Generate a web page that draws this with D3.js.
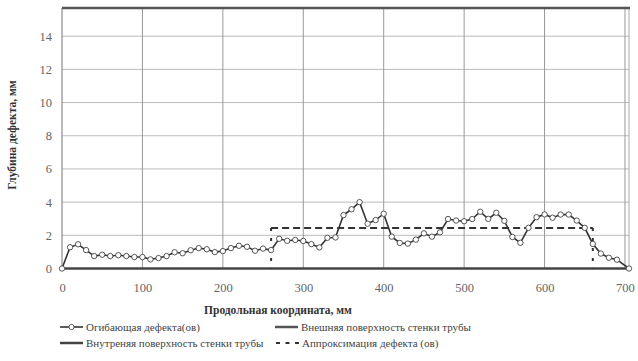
<!DOCTYPE html>
<html>
<head>
<meta charset="utf-8">
<script src="https://cdn.jsdelivr.net/npm/d3@7/dist/d3.min.js"></script>
<style>
  html, body { margin: 0; padding: 0; background: #fff; }
  svg { display: block; }
  text { font-family: "Liberation Serif", "DejaVu Serif", serif; }
</style>
</head>
<body>
<svg id="chart" width="638" height="361"></svg>
<script>
// ---- data ----
const positions = [0,10,20,30,40,50,60,70,80,90,100,110,120,130,140,150,160,170,180,190,
  200,210,220,230,240,250,260,270,280,290,300,310,320,330,340,350,360,370,380,390,
  400,410,420,430,440,450,460,470,480,490,500,510,520,530,540,550,560,570,580,590,
  600,610,620,630,640,650,660,670,680,690,705];
const envelope = [0,1.28,1.46,1.11,0.75,0.83,0.75,0.80,0.75,0.69,0.69,0.55,0.63,0.75,0.98,0.92,1.10,1.23,1.16,0.99,
  1.05,1.23,1.37,1.31,1.07,1.20,1.11,1.79,1.67,1.72,1.66,1.47,1.27,1.85,1.87,3.22,3.57,4.00,2.70,2.92,
  3.30,1.92,1.54,1.50,1.74,2.12,1.92,2.18,2.98,2.89,2.85,2.98,3.42,2.99,3.36,2.87,1.90,1.55,2.45,3.09,
  3.26,3.06,3.25,3.25,2.89,2.45,1.48,0.90,0.65,0.53,0];
const outerSurface = 15.7;
const innerSurface = 0;
const approxStart = 260, approxEnd = 660, approxDepth = 2.44;
const xTicks = [0,100,200,300,400,500,600,700];
const yTicks = [0,2,4,6,8,10,12,14];
const xTitle = "Продольная координата, мм";
const yTitle = "Глубина дефекта, мм";
const legendLabels = ["Огибающая дефекта(ов)", "Внешняя поверхность стенки трубы",
  "Внутреняя поверхность стенки трубы", "Аппроксимация дефекта (ов)"];

// ---- chart ----
const FONT = '"Liberation Serif", "DejaVu Serif", serif';
const svg = d3.select("#chart");
const x = d3.scaleLinear().domain([0, 705]).range([62, 629]);
const y = d3.scaleLinear().domain([0, 15.7]).range([268.5, 8]);

// gridlines
const g = svg.append("g");
g.selectAll(".hg").data(yTicks.filter(d => d > 0)).enter().append("line")
  .attr("x1", x(0)).attr("x2", x(705)).attr("y1", d => y(d)).attr("y2", d => y(d))
  .attr("stroke", "#bbbbbb").attr("stroke-width", 1);
g.selectAll(".vg").data(xTicks).enter().append("line")
  .attr("x1", d => x(d)).attr("x2", d => x(d)).attr("y1", y(0)).attr("y2", y(outerSurface))
  .attr("stroke", d => d === 0 ? "#777" : "#999").attr("stroke-width", 1);
// right border
g.append("line").attr("x1", x(705)).attr("x2", x(705)).attr("y1", y(0)).attr("y2", y(outerSurface))
  .attr("stroke", "#aaa").attr("stroke-width", 1);

// surfaces
svg.append("line").attr("x1", x(0)).attr("x2", x(705) + 1).attr("y1", y(outerSurface)).attr("y2", y(outerSurface))
  .attr("stroke", "#555").attr("stroke-width", 2.5);
svg.append("line").attr("x1", x(0)).attr("x2", x(705)).attr("y1", y(innerSurface)).attr("y2", y(innerSurface))
  .attr("stroke", "#444").attr("stroke-width", 2.5);

// approximation (dashed)
svg.append("path")
  .attr("d", d3.line()([[x(approxStart), y(approxDepth)], [x(approxEnd), y(approxDepth)]]))
  .attr("fill", "none").attr("stroke", "#333").attr("stroke-width", 2)
  .attr("stroke-dasharray", "7,4");
[approxStart, approxEnd].forEach(v => {
  svg.append("line").attr("x1", x(v)).attr("x2", x(v)).attr("y1", y(approxDepth)).attr("y2", y(0))
    .attr("stroke", "#333").attr("stroke-width", 2).attr("stroke-dasharray", "3,7");
});

// envelope line
const pts = positions.map((p, i) => [p, envelope[i]]);
svg.append("path")
  .attr("d", d3.line().x(d => x(d[0])).y(d => y(d[1]))(pts))
  .attr("fill", "none").attr("stroke", "#333").attr("stroke-width", 1.6);
svg.selectAll(".pt").data(pts).enter().append("circle")
  .attr("cx", d => x(d[0])).attr("cy", d => y(d[1])).attr("r", 2.7)
  .attr("fill", "#fff").attr("stroke", "#444").attr("stroke-width", 0.9);

// axes labels
const yAxis = d3.axisLeft(y).tickValues(yTicks).tickSize(0).tickPadding(10).tickFormat(d3.format("d"));
const ya = svg.append("g").attr("transform", `translate(${x(0)},0)`).call(yAxis)
  .attr("font-family", FONT);
ya.select(".domain").remove();
ya.selectAll("text").attr("font-size", 12.5).attr("fill", "#666");

const xAxis = d3.axisBottom(x).tickValues(xTicks).tickSize(0).tickPadding(15).tickFormat(d3.format("d"));
const xa = svg.append("g").attr("transform", `translate(0,${y(0)})`).call(xAxis)
  .attr("font-family", FONT);
xa.select(".domain").remove();
xa.selectAll("text").attr("font-size", 12.5).attr("fill", "#666");

// titles
svg.append("text").attr("x", 278).attr("y", 314).attr("text-anchor", "middle")
  .attr("font-family", FONT)
  .attr("font-size", 11.5).attr("font-weight", "bold").attr("fill", "#333").text(xTitle);
svg.append("text").attr("transform", "translate(16,135) rotate(-90)").attr("text-anchor", "middle")
  .attr("font-family", FONT)
  .attr("font-size", 11.5).attr("font-weight", "bold").attr("fill", "#333").text(yTitle);

// legend
const lg = svg.append("g").attr("font-size", 11).attr("fill", "#444").attr("font-family", FONT);
const legendItems = [
  {x: 60, y: 331, label: legendLabels[0], type: "marker"},
  {x: 275, y: 331, label: legendLabels[1], type: "outer"},
  {x: 60, y: 347, label: legendLabels[2], type: "inner"},
  {x: 276, y: 347, label: legendLabels[3], type: "dash"}
];
legendItems.forEach(it => {
  const line = lg.append("line").attr("x1", it.x).attr("x2", it.x + 23)
    .attr("y1", it.y - 4).attr("y2", it.y - 4);
  if (it.type === "marker") {
    line.attr("stroke", "#333").attr("stroke-width", 1.6);
    lg.append("circle").attr("cx", it.x + 11.5).attr("cy", it.y - 4).attr("r", 2.6)
      .attr("fill", "#fff").attr("stroke", "#444").attr("stroke-width", 0.9);
  } else if (it.type === "outer") {
    line.attr("stroke", "#555").attr("stroke-width", 2.5);
  } else if (it.type === "inner") {
    line.attr("stroke", "#444").attr("stroke-width", 2.5);
  } else {
    line.attr("stroke", "#333").attr("stroke-width", 2).attr("stroke-dasharray", "4,5.5");
  }
  lg.append("text").attr("x", it.x + 26).attr("y", it.y).text(it.label);
});
</script>
</body>
</html>
